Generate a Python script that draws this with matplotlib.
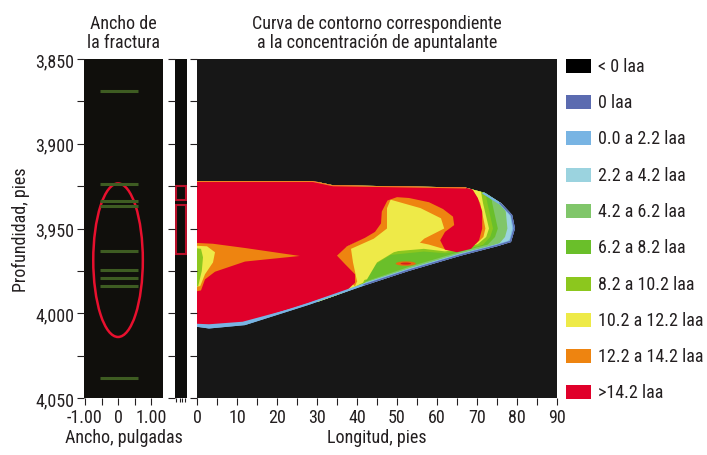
import matplotlib
matplotlib.use("Agg")
import matplotlib.pyplot as plt
from matplotlib.patches import Polygon, Ellipse, Rectangle
from matplotlib.ticker import FixedLocator, MultipleLocator, FuncFormatter

plt.rcParams['font.family'] = ['Roboto Condensed', 'DejaVu Sans']
plt.rcParams['text.color'] = '#231f20'
plt.rcParams['xtick.color'] = '#231f20'
plt.rcParams['ytick.color'] = '#231f20'
plt.rcParams['axes.labelcolor'] = '#231f20'

FS = 13

# ---- data ----
# left panel: fracture width log, green marks (depth, ft)
mark_depths = [3869, 3924, 3933.5, 3936.5, 3963, 3974.3, 3979, 3983.7, 4038]
mark_x0, mark_x1 = -0.55, 0.6
ellipse_center = (0.0, 3968.7)
ellipse_size = (1.5, 90.6)

# narrow strip: perforation intervals (top, bottom)
perf_top = [3925, 3936]
perf_bot = [3933, 3965]

# contour map, outline of the proppant body (length ft, depth ft)
out_x = [0, 29, 34, 67, 72, 76, 78.8, 79.5, 78.5, 75, 66, 53, 42, 28, 12, 3, 0]
out_d = [3922, 3922, 3924.5, 3925.8, 3929, 3935, 3942, 3950, 3958, 3960.5, 3966, 3975, 3983.5, 3995, 4007, 4009, 4008]

cyan_x = [30, 77, 78.3, 78.8, 78.2, 76.5, 66, 53, 42, 30]
cyan_d = [3915, 3915, 3940, 3950, 3956.5, 3959.6, 3965.2, 3974.3, 3982.7, 3995]

lgreen_x = [30, 74.5, 75.8, 77.2, 77.6, 77.0, 75.6, 72, 66, 53, 42, 30]
lgreen_d = [3915, 3915, 3930, 3940, 3950, 3955, 3958.8, 3961.2, 3964.6, 3973.6, 3982, 3995]

green_x = [30, 72.5, 73.8, 75.2, 74.5, 72.7, 66, 53, 42.5, 30]
green_d = [3915, 3915, 3935, 3950, 3955, 3959.5, 3963.6, 3972.6, 3981, 3995]

ygreen_x = [30, 71, 72.6, 74.0, 73.3, 71.5, 66, 62, 56.7, 48.4, 44, 42, 30]
ygreen_d = [3915, 3915, 3935, 3950, 3955, 3959.6, 3963.2, 3964.6, 3963.6, 3965.6, 3972, 3982, 3995]

yellow_x = [30, 70, 71.5, 73.0, 72.3, 70.2, 66, 62, 56.7, 48.4, 44, 41.5, 30]
yellow_d = [3915, 3915, 3935, 3950, 3955, 3959.2, 3962, 3963.5, 3962, 3963.7, 3970, 3982, 3995]

orange_x = [33, 37, 42, 45.5, 46, 49, 60, 69, 70.8, 72.1, 71.6, 69.8, 66, 62, 58, 55, 49, 44, 41, 39.5, 36]
orange_d = [3966, 3961, 3955, 3948, 3934, 3930.5, 3927, 3927.3, 3935, 3950, 3955, 3959, 3961.2, 3962.3, 3959.5, 3958, 3961, 3967, 3976, 3984, 3978]

myellow_x = [48.4, 55.9, 61, 61.8, 56.8, 55, 49.2, 45, 42.5, 40, 39, 38.5, 44.2, 47.5, 47.5]
myellow_d = [3933, 3938, 3944, 3950, 3956, 3960, 3964, 3970, 3980, 3981, 3970, 3962, 3956, 3950, 3938]

red_x = [-2, 29, 34, 67.5, 70.2, 71.3, 71.3, 70.5, 68.5, 65, 62, 60.8, 62, 64.3, 64, 61.5, 58, 53, 50, 47.6,
         46.2, 46, 44.5, 42, 37.5, 35, 37, 39.5, 39.5, 37.5, 35, 24, 11.4, 3, -2]
red_d = [3918, 3918, 3921, 3922, 3932, 3940, 3950, 3957, 3962, 3964, 3962.5, 3957, 3952, 3948, 3943, 3938.5,
         3934.5, 3932, 3931.5, 3933.5, 3940, 3947, 3952, 3955.5, 3960.5, 3966, 3971, 3977, 3982, 3986.5, 3988.5,
         3997, 4005, 4006.5, 4006]

wedge_x = [-2, 4, 12, 25.7, 12, 4.5, 2, 1, -2]
wedge_d = [3958.3, 3959, 3961.5, 3966.2, 3969.5, 3975.5, 3980, 3986.5, 3988]
wyellow_x = [-2, 2.5, 4.5, 4, 2, 0.8, -2]
wyellow_d = [3960, 3960.5, 3964, 3970, 3977, 3984, 3985]
wgreen_x = [-2, 1, 1.5, 1.2, 0.3, -2]
wgreen_d = [3961, 3962, 3967, 3975, 3984, 3985]

blob_center = (52.2, 3970.7)

legend_labels = ['< 0 laa', '0 laa', '0.0 a 2.2 laa', '2.2 a 4.2 laa', '4.2 a 6.2 laa',
                 '6.2 a 8.2 laa', '8.2 a 10.2 laa', '10.2 a 12.2 laa', '12.2 a 14.2 laa', '>14.2 laa']
legend_colors = ['#000000', '#5b6bb0', '#78b4e3', '#9bd3df', '#80c66a',
                 '#6abf2a', '#8cc71e', '#eeea48', '#ee8410', '#e0002a']
c = dict(zip(['neg', 'zero', 'lb', 'cyan', 'lg', 'g', 'yg', 'y', 'o', 'r'], legend_colors))

W, H = 707, 456
fig = plt.figure(figsize=(W / 100, H / 100), dpi=100)


def box(x0, x1, top=60, bot=399):
    return [x0 / W, (H - bot) / H, (x1 - x0) / W, (bot - top) / H]


ax1 = fig.add_axes(box(84, 163))
ax2 = fig.add_axes(box(175, 187))
ax3 = fig.add_axes(box(197, 557))

for ax in (ax1, ax2, ax3):
    ax.set_ylim(4050, 3850)
    ax.tick_params(direction='out', length=5, width=0.8, labelsize=FS, pad=2)
    ax.tick_params(which='minor', direction='out', length=5, width=0.8)
    for s in ax.spines.values():
        s.set_visible(False)
    ax.yaxis.set_major_locator(MultipleLocator(50))
    ax.yaxis.set_minor_locator(MultipleLocator(25))

# left panel
ax1.set_facecolor('#100f0c')
ax1.set_xlim(-1.03, 1.36)
ax1.xaxis.set_major_locator(FixedLocator([-1, 0, 1]))
ax1.xaxis.set_minor_locator(FixedLocator([-0.5, 0.5]))
ax1.xaxis.set_major_formatter(FuncFormatter(lambda v, p: '0' if v == 0 else f'{v:.2f}'))
ax1.yaxis.set_major_formatter(FuncFormatter(lambda v, p: f'{v:,.0f}'))
ax1.hlines(mark_depths, mark_x0, mark_x1, color='#3e5c22', lw=2.2)
ax1.add_patch(Ellipse(ellipse_center, ellipse_size[0], ellipse_size[1],
                      facecolor='none', edgecolor='#e8102e', lw=1.8))
ax1.set_title('Ancho de\nla fractura', fontsize=FS, pad=9, linespacing=1.05)
ax1.set_xlabel('Ancho, pulgadas', fontsize=FS, labelpad=2)
ax1.set_ylabel('Profundidad, pies', fontsize=FS, labelpad=4)

# strip
ax2.set_facecolor('#0d0d0b')
ax2.set_xlim(0, 1)
ax2.set_yticklabels([])
ax2.xaxis.set_major_locator(FixedLocator([0.05, 0.4, 0.6, 0.85]))
ax2.set_xticklabels([])
ax2.tick_params(axis='x', length=3)
for t, b in zip(perf_top, perf_bot):
    ax2.add_patch(Rectangle((0.06, t), 0.88, b - t, facecolor='none',
                            edgecolor='#b8102a', lw=1.5))

# contour map
ax3.set_facecolor('#171717')
ax3.set_xlim(0, 90)
ax3.xaxis.set_major_locator(MultipleLocator(10))
ax3.xaxis.set_minor_locator(MultipleLocator(5))
ax3.set_yticklabels([])
ax3.set_title('Curva de contorno correspondiente\na la concentración de apuntalante',
              fontsize=FS, pad=9, linespacing=1.05)
ax3.set_xlabel('Longitud, pies', fontsize=FS, labelpad=2)

outline = Polygon(list(zip(out_x, out_d)), closed=True, facecolor=c['lb'], edgecolor='none')
ax3.add_patch(outline)
layers = [(cyan_x, cyan_d, c['cyan']), (lgreen_x, lgreen_d, c['lg']), (green_x, green_d, c['g']),
          (ygreen_x, ygreen_d, c['yg']), (yellow_x, yellow_d, c['y']), (orange_x, orange_d, c['o']),
          (myellow_x, myellow_d, c['y']), (red_x, red_d, c['r']), (wedge_x, wedge_d, c['o']),
          (wyellow_x, wyellow_d, c['y']), (wgreen_x, wgreen_d, c['yg'])]
for xs, ds, col in layers:
    p = Polygon(list(zip(xs, ds)), closed=True, facecolor=col, edgecolor='none')
    ax3.add_patch(p)
    p.set_clip_path(outline)
for w, h, col in [(5, 2.6, '#e86a10'), (2.6, 1.2, '#d8201a')]:
    e = Ellipse(blob_center, w, h, facecolor=col, edgecolor='none')
    ax3.add_patch(e)

# edges of the body
edge_lb, = ax3.plot(out_x[4:], out_d[4:], color=c['lb'], lw=3.0, solid_joinstyle='round')
edge_b, = ax3.plot(out_x[5:13], out_d[5:13], color=c['zero'], lw=2.0, solid_joinstyle='round')
edge_top, = ax3.plot(out_x[:4], out_d[:4], color='#f08a20', lw=1.4)
for ln in (edge_lb, edge_b, edge_top):
    ln.set_clip_path(outline)

# legend
for i, (lab, col) in enumerate(zip(legend_labels, legend_colors)):
    yc = 66.7 + i * 36.3
    fig.add_artist(Rectangle((566 / W, (H - yc - 7) / H), 25 / W, 14 / H,
                             facecolor=col, edgecolor='none', transform=fig.transFigure))
    fig.text(598 / W, (H - yc) / H, lab, ha='left', va='center', fontsize=FS)

fig.savefig('out.png', dpi=100)
